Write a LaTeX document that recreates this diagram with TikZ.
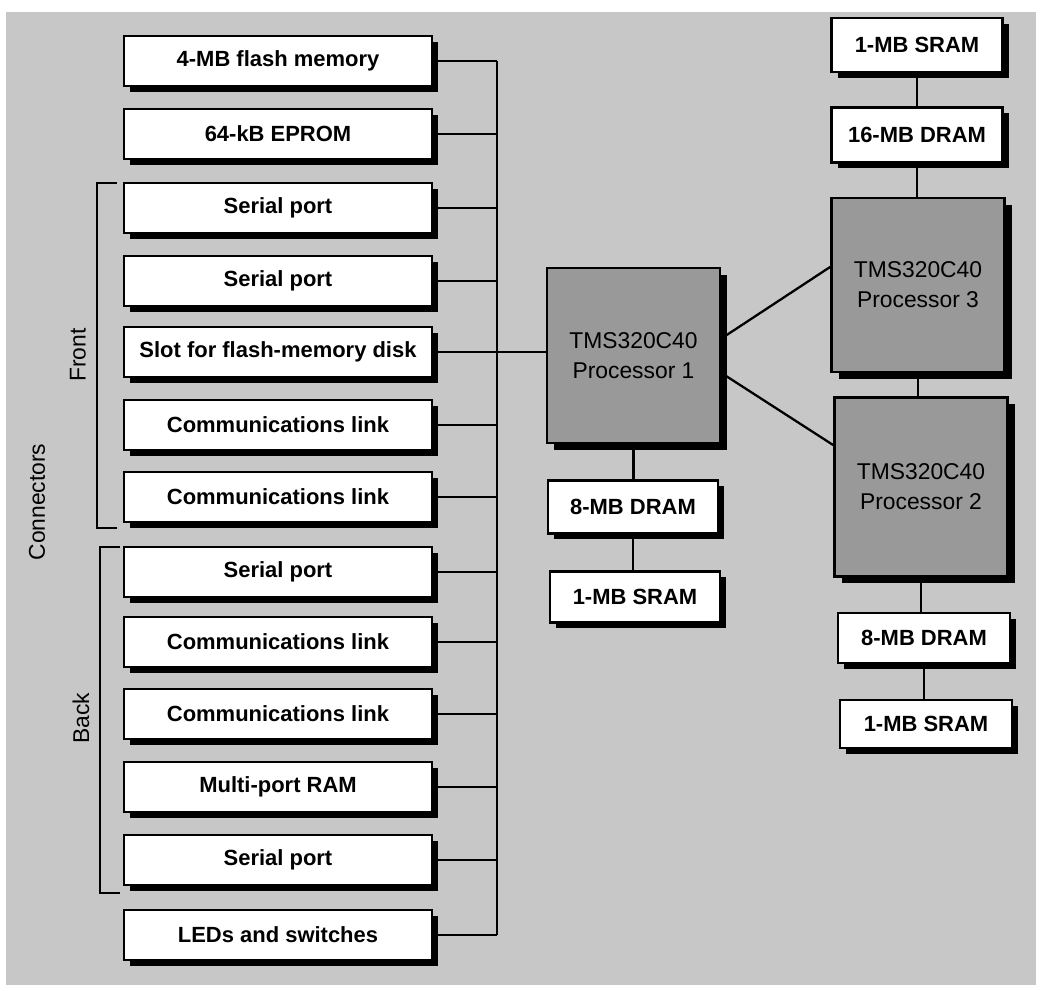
\documentclass[tikz,border=0pt]{standalone}
\usepackage{fontspec}
\setmainfont{Liberation Sans}
\usetikzlibrary{calc,shadows}
\definecolor{panelgray}{gray}{0.78}
\definecolor{chipgray}{gray}{0.6}
\tikzset{
	memBox/.style={draw=black, line width=1.6pt, fill=white, inner sep=0pt, minimum height=1cm,
		drop shadow={shadow xshift=0.12cm, shadow yshift=-0.12cm, fill=black, opacity=1},
		font=\fontsize{12.5}{14}\selectfont\bfseries},
	chipBox/.style={draw=black, line width=1.6pt, fill=chipgray, inner sep=0pt, align=center,
		minimum width=3.46cm,
		drop shadow={shadow xshift=0.14cm, shadow yshift=-0.14cm, fill=black, opacity=1},
		font=\fontsize{13}{17}\selectfont},
	wire/.style={line width=1.3pt},
	bracket/.style={line width=1.1pt},
	sideLabel/.style={rotate=90, font=\fontsize{13}{15}\selectfont}
}

\begin{document}
\begin{tikzpicture}
			%%%%% START %%%%%
			
			\useasboundingbox (0, 0) rectangle (20.82, 19.8);
			\fill[white] (0, 0) rectangle (20.82, 19.8);
			\fill[panelgray] (0.12, 0.1) rectangle (20.72, 19.56);
			
			\node[memBox, minimum width=6.16cm] (flash) at (5.56, 18.58) {4-MB flash memory};
			\node[memBox, minimum width=6.16cm] (eprom) at (5.56, 17.12) {64-kB EPROM};
			\node[memBox, minimum width=6.16cm] (serA) at (5.56, 15.64) {Serial port};
			\node[memBox, minimum width=6.16cm] (serB) at (5.56, 14.18) {Serial port};
			\node[memBox, minimum width=6.16cm] (slot) at (5.56, 12.76) {Slot for flash-memory disk};
			\node[memBox, minimum width=6.16cm] (commA) at (5.56, 11.30) {Communications link};
			\node[memBox, minimum width=6.16cm] (commB) at (5.56, 9.86) {Communications link};
			\node[memBox, minimum width=6.16cm] (serC) at (5.56, 8.36) {Serial port};
			\node[memBox, minimum width=6.16cm] (commC) at (5.56, 6.96) {Communications link};
			\node[memBox, minimum width=6.16cm] (commD) at (5.56, 5.52) {Communications link};
			\node[memBox, minimum width=6.16cm] (mpram) at (5.56, 4.06) {Multi-port RAM};
			\node[memBox, minimum width=6.16cm] (serD) at (5.56, 2.60) {Serial port};
			\node[memBox, minimum width=6.16cm] (leds) at (5.56, 1.10) {LEDs and switches};
			
			\coordinate (busTop) at (9.94, 18.58);
			\coordinate (busBot) at (9.94, 1.10);
			\draw[wire] (busTop) -- (busBot);
			
			\draw[wire] (flash.east) -- (flash.east -| busTop);
			\draw[wire] (eprom.east) -- (eprom.east -| busTop);
			\draw[wire] (serA.east) -- (serA.east -| busTop);
			\draw[wire] (serB.east) -- (serB.east -| busTop);
			\draw[wire] (commA.east) -- (commA.east -| busTop);
			\draw[wire] (commB.east) -- (commB.east -| busTop);
			\draw[wire] (serC.east) -- (serC.east -| busTop);
			\draw[wire] (commC.east) -- (commC.east -| busTop);
			\draw[wire] (commD.east) -- (commD.east -| busTop);
			\draw[wire] (mpram.east) -- (mpram.east -| busTop);
			\draw[wire] (serD.east) -- (serD.east -| busTop);
			\draw[wire] (leds.east) -- (leds.east -| busTop);
			
			\draw[bracket] (2.34, 16.14) -- (1.94, 16.14) -- (1.94, 9.24) -- (2.34, 9.24);
			\draw[bracket] (2.4, 8.86) -- (2.0, 8.86) -- (2.0, 1.94) -- (2.4, 1.94);
			\node[sideLabel] (front) at (1.56, 12.7) {Front};
			\node[sideLabel] (back) at (1.62, 5.44) {Back};
			\node[sideLabel] (conn) at (0.74, 9.76) {Connectors};
			
			\node[chipBox, minimum height=3.5cm] (pOne) at (12.67, 12.69) {TMS320C40\\Processor 1};
			\node[chipBox, minimum height=3.48cm] (pThree) at (18.36, 14.10) {TMS320C40\\Processor 3};
			\node[chipBox, minimum height=3.58cm] (pTwo) at (18.42, 10.06) {TMS320C40\\Processor 2};
			
			\node[memBox, minimum width=3.42cm, minimum height=1.08cm] (sramTop) at (18.34, 18.90) {1-MB SRAM};
			\node[memBox, minimum width=3.42cm, minimum height=1.1cm] (dramTop) at (18.34, 17.10) {16-MB DRAM};
			\node[memBox, minimum width=3.4cm, minimum height=1.06cm] (dramOne) at (12.66, 9.66) {8-MB DRAM};
			\node[memBox, minimum width=3.4cm, minimum height=1.02cm] (sramOne) at (12.70, 7.86) {1-MB SRAM};
			\node[memBox, minimum width=3.44cm, minimum height=1.0cm] (dramTwo) at (18.48, 7.04) {8-MB DRAM};
			\node[memBox, minimum width=3.44cm, minimum height=0.96cm] (sramTwo) at (18.52, 5.32) {1-MB SRAM};
			
			\draw[wire] (slot.east) -- (slot.east -| pOne.west);
			\draw[wire] ([yshift=0.34cm]pOne.east) -- ([yshift=0.36cm]pThree.west);
			\draw[wire] ([yshift=-0.35cm]pOne.east) -- ([yshift=0.84cm]pTwo.west);
			
			\draw[wire] (sramTop.south) -- (dramTop.north);
			\draw[wire] (dramTop.south) -- (dramTop.south |- pThree.north);
			\draw[wire] (pThree.south) -- (pThree.south |- pTwo.north);
			\draw[wire] (pTwo.south) -- (pTwo.south |- dramTwo.north);
			\draw[wire] (dramTwo.south) -- (dramTwo.south |- sramTwo.north);
			\draw[wire] (pOne.south) -- (pOne.south |- dramOne.north);
			\draw[wire] (dramOne.south) -- (dramOne.south |- sramOne.north);
			
			%%%%% END %%%%%
\end{tikzpicture}
\end{document}
